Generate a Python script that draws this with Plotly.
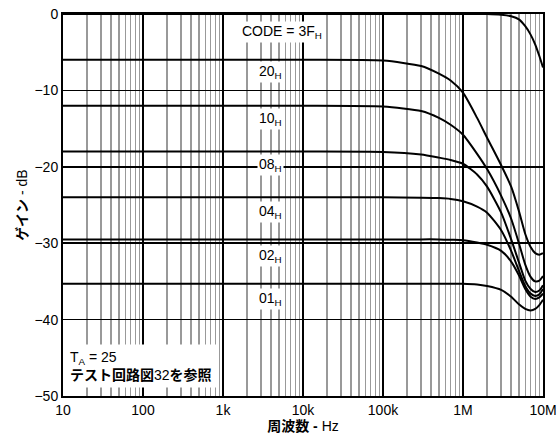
import plotly.graph_objects as go
import numpy as np

# Frequencies (Hz) sampled along each curve
freq = [10, 100, 1e3, 1e4, 1e5, 3e5, 5e5, 7e5, 1e6, 1.5e6, 2e6, 3e6, 4e6, 5e6, 6e6, 7e6, 8e6, 9e6, 1e7]

gain_3F = [0.0, 0.0, 0.0, 0.0, 0.0, 0.0, 0.0, 0.0, 0.0, 0.0, 0.0, -0.1, -0.3, -0.7, -1.6, -2.7, -4.0, -5.5, -7.0]
gain_20 = [-6.0, -6.0, -6.0, -6.0, -6.1, -6.8, -7.8, -8.7, -10.3, -13.6, -16.2, -19.8, -22.6, -25.8, -28.8, -30.5, -31.3, -31.5, -31.3]
gain_10 = [-12.0, -12.0, -12.0, -12.0, -12.1, -12.7, -13.6, -14.5, -15.8, -18.3, -20.3, -23.8, -26.8, -30.0, -32.8, -34.4, -35.0, -34.9, -34.3]
gain_08 = [-18.0, -18.0, -18.0, -18.0, -18.05, -18.4, -18.8, -19.1, -19.6, -21.0, -22.6, -26.0, -29.5, -32.5, -34.9, -36.0, -36.4, -36.2, -35.5]
gain_04 = [-24.0, -24.0, -24.0, -24.0, -24.0, -24.05, -24.1, -24.2, -24.5, -25.2, -26.0, -28.3, -31.0, -33.6, -35.6, -36.6, -36.9, -36.7, -36.0]
gain_02 = [-29.5, -29.5, -29.5, -29.5, -29.5, -29.5, -29.5, -29.55, -29.6, -29.9, -30.2, -31.0, -32.4, -34.2, -36.0, -37.0, -37.3, -37.1, -36.6]
gain_01 = [-35.3, -35.3, -35.3, -35.3, -35.3, -35.3, -35.3, -35.3, -35.3, -35.4, -35.6, -36.1, -37.0, -38.0, -38.6, -38.8, -38.6, -38.1, -37.4]

series = [gain_3F, gain_20, gain_10, gain_08, gain_04, gain_02, gain_01]

code_labels = ["CODE = 3F<sub>H</sub>", "20<sub>H</sub>", "10<sub>H</sub>", "08<sub>H</sub>",
               "04<sub>H</sub>", "02<sub>H</sub>", "01<sub>H</sub>"]
label_x = [5500, 3900, 3900, 3900, 3900, 3900, 3900]
label_y = [-2.3, -7.6, -13.8, -19.8, -25.9, -31.7, -37.3]

x_tickvals = [10, 100, 1e3, 1e4, 1e5, 1e6, 1e7]
x_ticktext = ["10", "100", "1k", "10k", "100k", "1M", "10M"]
y_tickvals = [0, -10, -20, -30, -40, -50]

FONT = "Arial, 'Liberation Sans', 'Noto Sans CJK JP', sans-serif"
FS = 14

fig = go.Figure()
for s in series:
    fig.add_trace(go.Scatter(x=freq, y=s, mode="lines",
                             line=dict(color="black", width=2, shape="spline", smoothing=0.6),
                             showlegend=False, hoverinfo="skip"))

for t, lx, ly in zip(code_labels, label_x, label_y):
    fig.add_annotation(x=np.log10(lx), y=ly, text=t, showarrow=False,
                       font=dict(family=FONT, size=FS, color="black"),
                       bgcolor="white", borderpad=1)

fig.add_annotation(xref="paper", yref="paper", x=0.004, y=0.02, xanchor="left", yanchor="bottom",
                   text="T<sub>A</sub> = 25<br><b>テスト回路図</b>32<b>を参照</b>",
                   align="left", showarrow=False, bgcolor="white", borderpad=4,
                   font=dict(family=FONT, size=FS, color="black"))

fig.update_xaxes(type="log", range=[1, 7], tickvals=x_tickvals, ticktext=x_ticktext,
                 showgrid=True, gridcolor="black", gridwidth=2,
                 minor=dict(dtick="D1", showgrid=True, gridcolor="#999999", gridwidth=1.5, ticklen=0),
                 showline=True, linecolor="black", linewidth=2, mirror=True,
                 ticks="", tickfont=dict(family=FONT, size=FS, color="black"),
                 title=dict(text="<b>周波数 -</b> Hz", font=dict(family=FONT, size=FS, color="black"), standoff=4),
                 zeroline=False, automargin=False)
fig.update_yaxes(range=[-50, 0], tickvals=y_tickvals,
                 showgrid=True, gridcolor="black", gridwidth=1.5,
                 showline=True, linecolor="black", linewidth=2, mirror=True,
                 ticks="", tickfont=dict(family=FONT, size=FS, color="black"),
                 title=dict(text="<b>ゲイン</b> - dB", font=dict(family=FONT, size=FS, color="black"), standoff=4),
                 zeroline=False, automargin=False)

fig.update_layout(width=560, height=443, margin=dict(l=63, r=17, t=14, b=47),
                  plot_bgcolor="white", paper_bgcolor="white",
                  font=dict(family=FONT, size=FS, color="black"))

# remove the default 8px page margin so the figure fills the window exactly
fig.write_html("out.html", config={"displayModeBar": False, "staticPlot": True},
               post_script="document.body.style.margin='0';document.body.style.overflow='hidden';")
